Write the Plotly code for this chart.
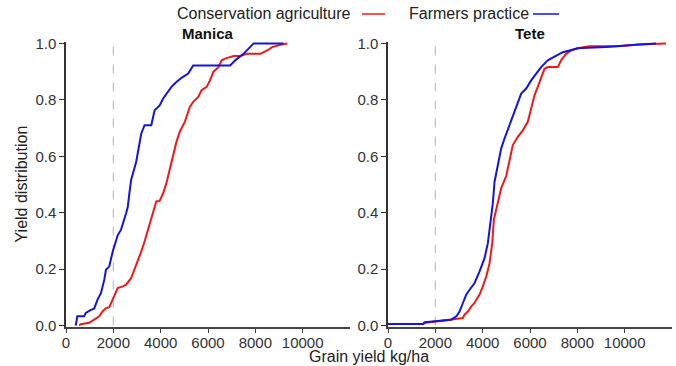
import plotly.graph_objects as go

# ---------------- data ----------------
series_names = ["Conservation agriculture", "Farmers practice"]
panel_titles = ["Manica", "Tete"]
threshold_yield = 2000

manica_ca_x = [553, 625, 980, 1190, 1404, 1545, 1688, 1830, 1944, 2043, 2184, 2397, 2540, 2752,
               2894, 3035, 3178, 3320, 3460, 3603, 3745, 3815, 3957, 4100, 4240, 4454, 4667, 4808,
               5020, 5234, 5375, 5587, 5730, 5944, 6085, 6225, 6440, 6580, 6720, 7080, 7360, 7645,
               8212, 8500, 8710, 9063, 9350]
manica_ca_y = [0, 0.005, 0.01, 0.02, 0.033, 0.05, 0.062, 0.065, 0.086, 0.11, 0.133, 0.139, 0.145, 0.168,
               0.198, 0.227, 0.262, 0.298, 0.339, 0.38, 0.415, 0.44, 0.442, 0.468, 0.504, 0.58, 0.651, 0.687,
               0.722, 0.775, 0.793, 0.81, 0.834, 0.846, 0.869, 0.899, 0.916, 0.94, 0.946, 0.955, 0.955, 0.963,
               0.963, 0.975, 0.987, 0.995, 1.0]

manica_fp_x = [410, 480, 765, 838, 1050, 1190, 1333, 1475, 1617, 1688, 1830, 1972, 2184, 2327, 2540,
               2610, 2680, 2752, 2965, 3178, 3320, 3603, 3745, 3957, 4100, 4312, 4454, 4667, 4880, 5163,
               5375, 6936, 7150, 7500, 7715, 7928, 9190]
manica_fp_y = [0, 0.033, 0.033, 0.045, 0.056, 0.06, 0.092, 0.115, 0.162, 0.198, 0.21, 0.262, 0.32, 0.34, 0.398,
               0.42, 0.47, 0.516, 0.58, 0.68, 0.71, 0.71, 0.763, 0.78, 0.804, 0.828, 0.846, 0.863, 0.878, 0.893,
               0.922, 0.922, 0.94, 0.963, 0.98, 1.0, 1.0]

tete_ca_x = [0, 1480, 1600, 2675, 3165, 3236, 3376, 3519, 3658, 3730, 3869, 4008, 4152, 4291, 4405,
             4473, 4574, 4641, 4783, 4995, 5135, 5274, 5485, 5696, 5907, 6050, 6190, 6329, 6473, 6612,
             6751, 7173, 7315, 7525, 7737, 8017, 8505, 9706, 10600, 11745]
tete_ca_y = [0.006, 0.006, 0.01, 0.02, 0.027, 0.039, 0.05, 0.068, 0.08, 0.092, 0.11, 0.139, 0.174, 0.221, 0.292,
             0.375, 0.41, 0.44, 0.487, 0.53, 0.592, 0.64, 0.669, 0.692, 0.722, 0.769, 0.816, 0.846, 0.875, 0.91,
             0.916, 0.916, 0.94, 0.963, 0.975, 0.983, 0.99, 0.99, 0.996, 1.0]

tete_fp_x = [0, 1477, 1550, 1970, 2675, 2886, 3025, 3165, 3308, 3447, 3658, 3869, 4080, 4219, 4291,
             4362, 4430, 4502, 4641, 4783, 4924, 5135, 5274, 5485, 5628, 5840, 6050, 6262, 6473, 6751,
             7034, 7384, 7667, 8017, 8220, 9215, 10620, 11325]
tete_fp_y = [0.006, 0.006, 0.012, 0.015, 0.021, 0.033, 0.05, 0.08, 0.11, 0.127, 0.151, 0.192, 0.239, 0.292, 0.339,
             0.395, 0.434, 0.51, 0.565, 0.628, 0.663, 0.71, 0.746, 0.793, 0.822, 0.84, 0.869, 0.893, 0.916, 0.94,
             0.952, 0.969, 0.975, 0.983, 0.984, 0.987, 0.996, 1.0]

x_ticks = [0, 2000, 4000, 6000, 8000, 10000]
x_tick_labels = ["0", "2000", "4000", "6000", "8000", "10000"]
y_ticks = [0.0, 0.2, 0.4, 0.6, 0.8, 1.0]
y_tick_labels = ["0.0", "0.2", "0.4", "0.6", "0.8", "1.0"]

# ---------------- styling ----------------
RED = "#f01818"
BLUE = "#1414dc"
FONT = "Liberation Sans, Arial, sans-serif"
W, H = 676, 366
ML, MR, MT, MB = 66, 4, 42, 39
PW = W - ML - MR
PH = H - MT - MB


def px_x(p):
    return (p - ML) / PW


def px_y(p):
    return (H - MB - p) / PH


fig = go.Figure()

panels = [
    ("x", "y", manica_ca_x, manica_ca_y, manica_fp_x, manica_fp_y),
    ("x2", "y2", tete_ca_x, tete_ca_y, tete_fp_x, tete_fp_y),
]
for xa, ya, cax, cay, fpx, fpy in panels:
    fig.add_trace(go.Scatter(x=[threshold_yield, threshold_yield], y=[0, 1], mode="lines",
                             line=dict(color="#c4c4c4", width=1.3, dash="dash"),
                             xaxis=xa, yaxis=ya, showlegend=False, hoverinfo="skip"))
    fig.add_trace(go.Scatter(x=cax, y=cay, mode="lines", name=series_names[0],
                             line=dict(color=RED, width=2), xaxis=xa, yaxis=ya, showlegend=False))
    fig.add_trace(go.Scatter(x=fpx, y=fpy, mode="lines", name=series_names[1],
                             line=dict(color=BLUE, width=2), xaxis=xa, yaxis=ya, showlegend=False))

dom1 = [0, px_x(350)]
dom2 = [px_x(388), 1]

TICKSIZE = 15
xcommon = dict(range=[0, 12000], tickvals=x_ticks, ticktext=x_tick_labels, ticks="outside", ticklen=4,
               tickcolor="#444", showline=True, linecolor="#444", linewidth=1.5, showgrid=False,
               zeroline=False, automargin=False, ticklabelstandoff=-3,
               tickfont=dict(family=FONT, size=TICKSIZE, color="#333"))
ycommon = dict(range=[-0.005, 1.005], tickvals=y_ticks, ticktext=y_tick_labels, ticks="outside", ticklen=5,
               tickcolor="#333", showline=True, linecolor="#333", linewidth=1.5, showgrid=False,
               zeroline=False, automargin=False,
               tickfont=dict(family=FONT, size=TICKSIZE, color="#333"))

fig.update_layout(
    width=W, height=H,
    margin=dict(l=ML, r=MR, t=MT, b=MB, autoexpand=False),
    paper_bgcolor="white", plot_bgcolor="white",
    showlegend=False,
    xaxis=dict(domain=dom1, anchor="y", **xcommon),
    yaxis=dict(domain=[0, 1], anchor="x", **ycommon),
    xaxis2=dict(domain=dom2, anchor="y2", **xcommon),
    yaxis2=dict(domain=[0, 1], anchor="x2", **ycommon),
    font=dict(family=FONT, size=15, color="#222"),
)

ann = []
# panel titles
for dom, title in ((dom1, panel_titles[0]), (dom2, panel_titles[1])):
    ann.append(dict(text="<b>" + title + "</b>", x=(dom[0] + dom[1]) / 2, y=px_y(34),
                    xref="paper", yref="paper", showarrow=False, xanchor="center", yanchor="middle",
                    font=dict(family=FONT, size=15, color="#111")))
# axis titles
ann.append(dict(text="Grain yield kg/ha", x=px_x(369), y=px_y(357), xref="paper", yref="paper",
                showarrow=False, xanchor="center", yanchor="middle",
                font=dict(family=FONT, size=16, color="#222")))
ann.append(dict(text="Yield distribution", x=px_x(21), y=0.5, xref="paper", yref="paper",
                showarrow=False, xanchor="center", yanchor="middle", textangle=-90,
                font=dict(family=FONT, size=16, color="#222")))
# legend (text followed by line key)
ann.append(dict(text=series_names[0], x=px_x(353), y=px_y(14), xref="paper", yref="paper",
                showarrow=False, xanchor="right", yanchor="middle",
                font=dict(family=FONT, size=16, color="#222")))
ann.append(dict(text=series_names[1], x=px_x(407), y=px_y(14), xref="paper", yref="paper",
                showarrow=False, xanchor="left", yanchor="middle",
                font=dict(family=FONT, size=16, color="#222")))
fig.update_layout(annotations=ann)

fig.update_layout(shapes=[
    dict(type="line", xref="paper", yref="paper", x0=px_x(362), x1=px_x(385), y0=px_y(14), y1=px_y(14),
         line=dict(color=RED, width=1.5)),
    dict(type="line", xref="paper", yref="paper", x0=px_x(533), x1=px_x(559), y0=px_y(14), y1=px_y(14),
         line=dict(color=BLUE, width=1.5)),
])

fig.write_html("out.html", config={"displayModeBar": False},
               post_script="document.body.style.margin='0px';document.body.style.overflow='hidden';")
